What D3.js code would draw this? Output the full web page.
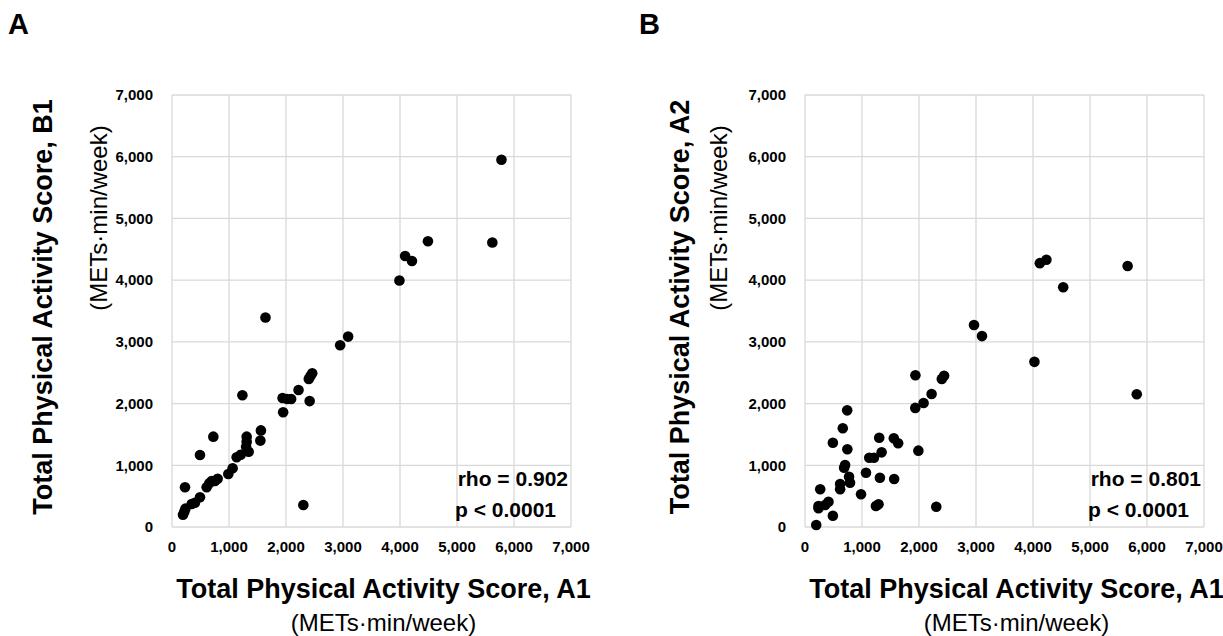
<!DOCTYPE html>
<html>
<head>
<meta charset="utf-8">
<script src="https://cdn.jsdelivr.net/npm/d3@7"></script>
<style>
  body { margin: 0; background: #fff; }
  svg { font-family: "Liberation Sans", Arial, sans-serif; }
</style>
</head>
<body>
<div id="chart"></div>
<script>
// Panel A : A1 vs B1
const a1ValuesA = [5780, 4490, 5620, 4090, 4210, 3990, 1640, 3090, 2950, 2460, 2430, 2400, 2220, 1235, 1940,
    2020, 2090, 2415, 1950, 1560, 1550, 725, 1310, 1310, 1300, 1345, 1205, 1134, 491, 1064, 988, 801, 754, 696,
    655, 608, 228, 491, 403, 345, 2304, 235, 216, 193];
const b1Values = [5950, 4630, 4610, 4390, 4310, 3995, 3395, 3085, 2945, 2490, 2445, 2400, 2220, 2135, 2090,
    2075, 2075, 2040, 1860, 1565, 1400, 1464, 1464, 1383, 1300, 1220, 1170, 1130, 1167, 951, 859, 783, 745, 745,
    708, 643, 643, 481, 394, 372, 357, 297, 248, 200];

// Panel B : A1 vs A2
const a1ValuesB = [5660, 4235, 4120, 4530, 2965, 3105, 4025, 5820, 1937, 2440, 2400, 2221, 2080, 1935, 740,
    663, 489, 1302, 1558, 1634, 743, 1989, 1344, 1127, 1209, 703, 686, 1070, 773, 1314, 1564, 790, 616, 616, 267,
    983, 412, 354, 237, 237, 489, 197, 1244, 1290, 2303];
const a2Values = [4230, 4330, 4275, 3885, 3272, 3093, 2676, 2150, 2460, 2450, 2400, 2155, 2010, 1930, 1890,
    1600, 1366, 1447, 1437, 1356, 1259, 1237, 1210, 1123, 1123, 1005, 961, 880, 815, 799, 778, 718, 697, 611, 611,
    530, 410, 357, 340, 303, 183, 32, 340, 368, 329];

const tickValues = [0, 1000, 2000, 3000, 4000, 5000, 6000, 7000];
const axisMax = 7000;
const unitLabel = "(METs\u00b7min/week)";

const plotWidth = 399,
    plotHeight = 432,
    plotTop = 95,
    dotRadius = 5.3,
    gridColor = "#d9d9d9";

const svg = d3.select("#chart").append("svg")
    .attr("width", 1223)
    .attr("height", 636);

function drawPanel(p) {
    const g = svg.append("g")
        .attr("transform", "translate(" + p.left + "," + plotTop + ")");

    const x = d3.scaleLinear().domain([0, axisMax]).range([0, plotWidth]);
    const y = d3.scaleLinear().domain([0, axisMax]).range([plotHeight, 0]);

    // gridlines (vertical + horizontal), they also make the frame
    g.selectAll("line.vgrid")
        .data(tickValues)
        .enter().append("line")
        .attr("x1", d => x(d)).attr("x2", d => x(d))
        .attr("y1", 0).attr("y2", plotHeight)
        .style("stroke", gridColor)
        .style("stroke-width", 1.3);

    g.selectAll("line.hgrid")
        .data(tickValues)
        .enter().append("line")
        .attr("x1", 0).attr("x2", plotWidth)
        .attr("y1", d => y(d)).attr("y2", d => y(d))
        .style("stroke", gridColor)
        .style("stroke-width", 1.3);

    // tick labels
    g.selectAll("text.xtick")
        .data(tickValues)
        .enter().append("text")
        .attr("x", d => x(d))
        .attr("y", plotHeight + 20)
        .attr("dy", "0.35em")
        .attr("text-anchor", "middle")
        .style("font-size", "15px")
        .style("font-weight", "bold")
        .text(d3.format(","));

    g.selectAll("text.ytick")
        .data(tickValues)
        .enter().append("text")
        .attr("x", -19)
        .attr("y", d => y(d))
        .attr("dy", "0.35em")
        .attr("text-anchor", "end")
        .style("font-size", "15px")
        .style("font-weight", "bold")
        .text(d3.format(","));

    // points
    g.selectAll("circle")
        .data(d3.zip(p.xs, p.ys))
        .enter().append("circle")
        .attr("cx", d => x(d[0]))
        .attr("cy", d => y(d[1]))
        .attr("r", dotRadius)
        .style("fill", "#000");

    // rho / p text
    g.append("text")
        .attr("x", plotWidth - 3)
        .attr("y", plotHeight - 41)
        .attr("text-anchor", "end")
        .style("font-size", "21px")
        .style("font-weight", "bold")
        .text("rho = " + p.rho);

    g.append("text")
        .attr("x", plotWidth - 116)
        .attr("y", plotHeight - 10)
        .style("font-size", "21px")
        .style("font-weight", "bold")
        .text("p < 0.0001");

    // x axis title
    const xt = g.append("text")
        .attr("text-anchor", "middle")
        .attr("transform", "translate(" + (plotWidth / 2 + 12) + "," + (plotHeight + 71) + ")");
    xt.append("tspan")
        .attr("x", 0).attr("y", 0)
        .style("font-size", "27px")
        .style("font-weight", "bold")
        .text("Total Physical Activity Score, A1");
    xt.append("tspan")
        .attr("x", 0).attr("y", 33)
        .style("font-size", "24px")
        .text(unitLabel);

    // y axis title, the unit line sits higher than the centre of the bold line
    const yt = g.append("text")
        .attr("text-anchor", "middle")
        .attr("transform", "translate(" + p.yTitleX + "," + (plotHeight / 2 - 4) + ") rotate(-90)");
    yt.append("tspan")
        .attr("x", 0).attr("y", 0)
        .style("font-size", "27px")
        .style("font-weight", "bold")
        .text("Total Physical Activity Score, " + p.yName);
    yt.append("tspan")
        .attr("x", 89).attr("y", p.yUnitGap)
        .style("font-size", "24px")
        .text(unitLabel);

    // panel letter
    svg.append("text")
        .attr("x", p.letterX)
        .attr("y", 34)
        .style("font-size", "29px")
        .style("font-weight", "bold")
        .text(p.letter);
}

drawPanel({left: 172, xs: a1ValuesA, ys: b1Values, rho: "0.902", yName: "B1",
    yTitleX: -120, yUnitGap: 55, letter: "A", letterX: 8});
drawPanel({left: 805, xs: a1ValuesB, ys: a2Values, rho: "0.801", yName: "A2",
    yTitleX: -116, yUnitGap: 38, letter: "B", letterX: 639});
</script>
</body>
</html>
